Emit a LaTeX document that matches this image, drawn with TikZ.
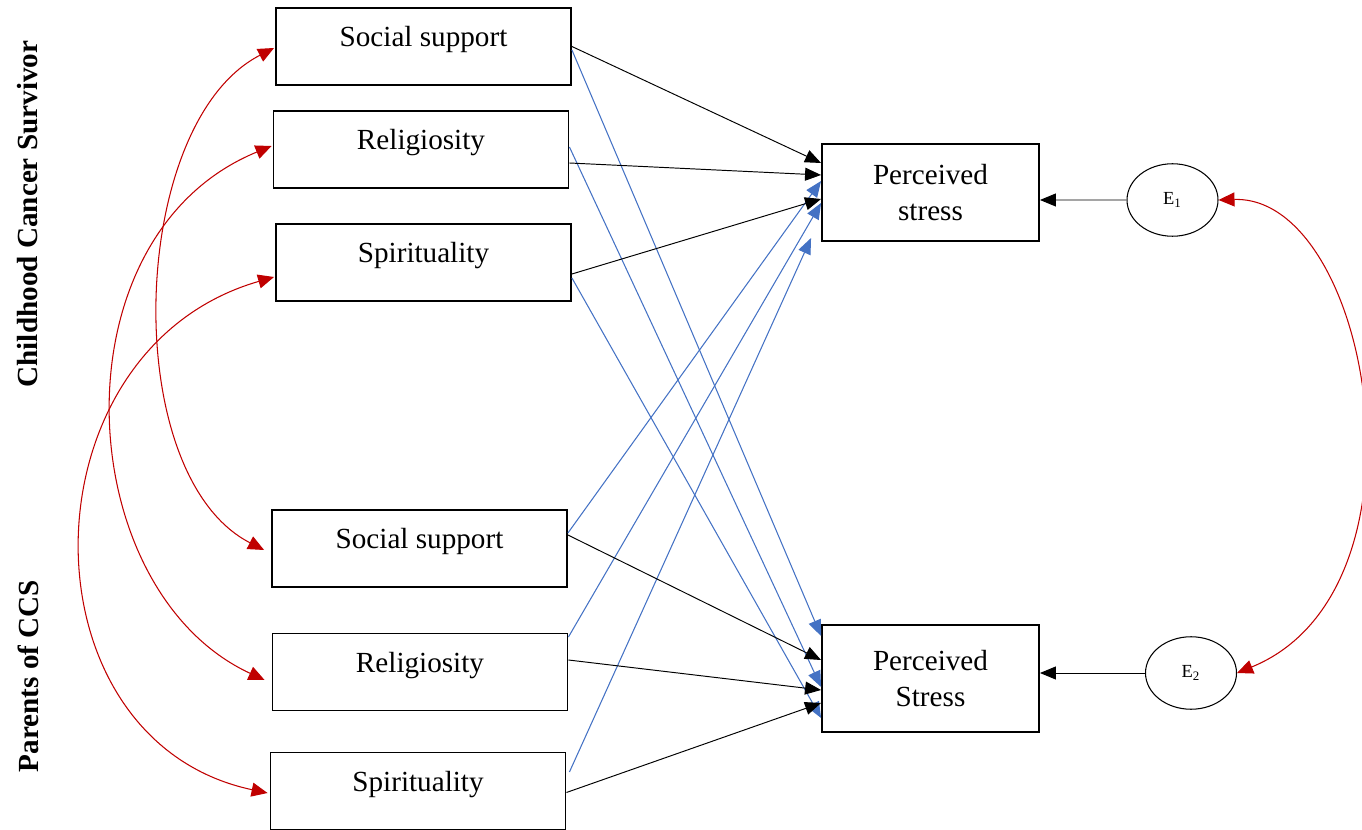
\documentclass[tikz,border=0pt]{standalone}
\usepackage{fontspec}
\setmainfont{Liberation Serif}
\usetikzlibrary{arrows.meta,calc,shapes.geometric}
\definecolor{pathblue}{HTML}{4472C4}
\definecolor{covred}{HTML}{C00000}
\begin{document}
\begin{tikzpicture}[x=0.02cm,y=-0.02cm,
  varbox/.style={draw,line width=1.1pt,minimum width=5.9cm,minimum height=1.54cm,inner sep=0pt,
    text height=0.45cm,text depth=0.44cm,font=\fontsize{16.6}{20}\selectfont},
  outbox/.style={draw,line width=1.1pt,minimum width=4.34cm,inner sep=0pt,align=center,
    font=\fontsize{16.6}{21}\selectfont},
  errnode/.style={draw,ellipse,line width=0.6pt,minimum width=1.82cm,minimum height=1.45cm,inner sep=0pt,
    font=\fontsize{10.5}{12}\selectfont},
  grouplabel/.style={rotate=90,font=\bfseries\fontsize{16.6}{20}\selectfont},
  blk/.style={line width=0.55pt,-{Triangle[length=0.32cm,width=0.26cm]}},
  blu/.style={pathblue,line width=0.6pt,-{Triangle[length=0.32cm,width=0.26cm]}},
  cov/.style={covred,line width=0.6pt,{Triangle[length=0.32cm,width=0.28cm]}-{Triangle[length=0.32cm,width=0.28cm]}}
]
\useasboundingbox (0,0) rectangle (1362,830);

% group labels
\node[grouplabel] (lab1) at (28,214) {Childhood Cancer Survivor};
\node[grouplabel] (lab2) at (28,676) {Parents of CCS};

% predictor boxes
\node[varbox] (ss1)  at (423.5,46.5)  {Social support};
\node[varbox] (rel1) at (421,149.5)   {Religiosity};
\node[varbox] (spi1) at (423.5,262.5) {Spirituality};
\node[varbox] (ss2)  at (419.5,548.5) {Social support};
\node[varbox] (rel2) at (420,672)     {Religiosity};
\node[varbox] (spi2) at (418,791)     {Spirituality};

% outcome boxes
\node[outbox,minimum height=1.94cm] (ps1) at (930.5,192.5) {Perceived\\stress};
\node[outbox,minimum height=2.14cm] (ps2) at (930.5,678.5) {Perceived\\Stress};

% error terms
\node[errnode] (e1) at (1172.5,200) {E\textsubscript{1}};
\node[errnode] (e2) at (1191,673)   {E\textsubscript{2}};

% blue cross paths
\draw[blu] ($(ss1.east)+(0,3.5)$)   -- ($(ps2.west)+(0,-42.5)$);
\draw[blu] ($(rel1.east)+(0,-2.5)$) -- ($(ps2.west)+(0,8.5)$);
\draw[blu] ($(spi1.east)+(0,15.5)$) -- ($(ps2.west)+(0,39.5)$);
\draw[blu] ($(ss2.east)+(0,-15.5)$) -- ($(ps1.west)+(0,-11.5)$);
\draw[blu] ($(rel2.east)+(0,-35)$)  -- ($(ps1.west)+(0,10.5)$);
\draw[blu] ($(spi2.east)+(3,-19)$)  -- ($(ps1.west)+(-10,45.5)$);

% black paths
\draw[blk] (ss1.east) -- ($(ps1.west)+(0,-29.5)$);
\draw[blk] ($(rel1.east)+(0,13.5)$) -- ($(ps1.west)+(0,-17.5)$);
\draw[blk] ($(spi1.east)+(0,11.5)$) -- ($(ps1.west)+(0,6.5)$);
\draw[blk] ($(ss2.east)+(0,-13.5)$) -- ($(ps2.west)+(0,-18.5)$);
\draw[blk] ($(rel2.east)+(0,-12)$)  -- ($(ps2.west)+(0,11.5)$);
\draw[blk] ($(spi2.east)+(0,1.5)$)  -- ($(ps2.west)+(0,24.5)$);
\draw[blk] (e1.west) -- ($(ps1.east)+(0,7.5)$);
\draw[blk] (e2.west) -- ($(ps2.east)+(0,-5.5)$);

% covariances
\draw[cov] ($(ss1.west)+(-1,1.5)$) .. controls (128,123) and (118,475) .. ($(ss2.west)+(-7,1.5)$);
\draw[cov] ($(rel1.west)+(-1,-3.5)$) .. controls (52,236) and (70,590) .. ($(rel2.west)+(-7,8)$);
\draw[cov] ($(spi1.west)+(-1,14.5)$) .. controls (20,350) and (18,740) .. ($(spi2.west)+(-2,2)$);
\draw[cov] (e1.east) .. controls (1370,195) and (1440,590) .. (e2.east);
\end{tikzpicture}
\end{document}
